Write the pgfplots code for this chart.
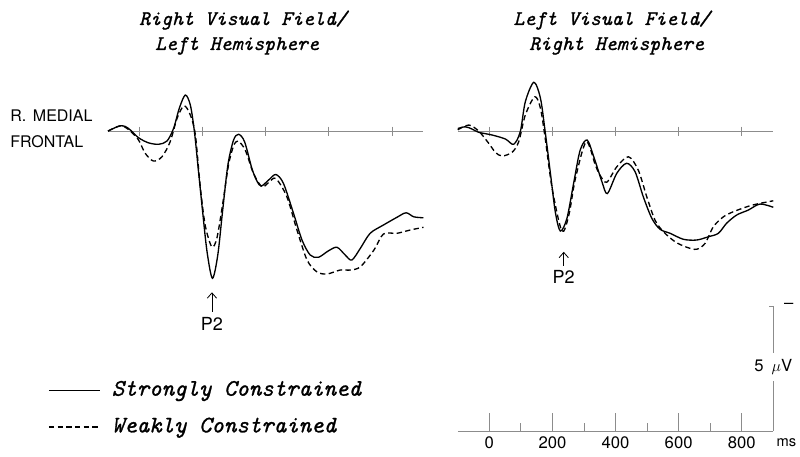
\documentclass[border=0pt]{standalone}
\usepackage{fontspec}
\usepackage{pgfplots}
\pgfplotsset{compat=1.18}
\usetikzlibrary{arrows.meta}

\newfontfamily\sansfont{TeX Gyre Heros}
\newfontfamily\titlefont{lmmono10-italic}[Extension=.otf, FakeBold=1]
\definecolor{zeroline}{gray}{0.55}

\tikzset{p2arrow/.style={{Straight Barb[length=4pt, width=7pt]}-, line width=0.6pt}}

% ms / microvolt data (negative up)
\pgfplotsset{
  erp/.style={
    scale only axis, width=236.6pt, height=168.75pt,
    xmin=-100, xmax=900, ymin=-2.5, ymax=6.5, y dir=reverse,
    axis x line=middle, axis y line=none, axis line style={-, zeroline, line width=0.6pt},
    xtick={0,200,...,800}, xticklabels={}, ytick=\empty,
    tick align=center, major tick length=6.75pt, tick style={zeroline, line width=0.6pt},
    clip=false,
  },
  strong/.style={black, line width=1pt, smooth, tension=0.5},
  weak/.style={black, line width=1pt, smooth, tension=0.5, dash pattern=on 4pt off 2.5pt},
}

\begin{document}
\begin{tikzpicture}
\useasboundingbox (0,0) rectangle (600pt,342.75pt);

% titles
\node[anchor=base, font=\fontsize{15.6}{18}\titlefont] at (182.25pt,324pt) {Right Visual Field/};
\node[anchor=base, font=\fontsize{15.6}{18}\titlefont] at (177.75pt,305.25pt) {Left Hemisphere};
\node[anchor=base, font=\fontsize{15.6}{18}\titlefont] at (458.8pt,324pt) {Left Visual Field/};
\node[anchor=base, font=\fontsize{15.6}{18}\titlefont] at (462.5pt,305.25pt) {Right Hemisphere};

\node[anchor=base west, inner sep=0pt, font=\fontsize{12}{14}\sansfont] at (7.5pt,251.25pt) {R.\hspace{5pt}MEDIAL};
\node[anchor=base west, inner sep=0pt, font=\fontsize{12}{14}\sansfont] at (7.5pt,231.75pt) {FRONTAL};

% left panel
\begin{axis}[erp, at={(81pt,122.6pt)}, anchor=south west,
  legend style={at={(-0.203,-0.37)}, anchor=north west, draw=none, fill=none,
    font=\fontsize{17.8}{21}\titlefont, row sep=11.5pt,
    nodes={inner sep=0pt, text height=12pt, text depth=4pt}},
  legend cell align=left,
  legend image code/.code={\draw[#1] (0pt,0pt) -- (38.7pt,0pt); \path (46.7pt,0pt);},
]
\addplot[strong] coordinates {
(-100,0) (-80,-0.12) (-61,-0.21) (-45,-0.18) (-29,-0.04) (-3,0.27) (28,0.47) (60,0.53)
(87,0.4) (108,-0.11) (126,-0.91) (145,-1.44) (161,-1.04) (174,0.03) (187,1.63) (200,3.23)
(214,4.83) (231,5.89) (248,4.96) (263,3.23) (280,1.36) (298,0.36) (314,0.13) (333,0.43)
(356,1.49) (372,2.0) (386,2.2) (410,1.95) (432,1.74) (456,2.09) (488,3.29) (515,4.36)
(541,4.96) (567,5.05) (599,4.79) (626,4.65) (652,4.96) (673,5.16) (700,4.69) (731,4.09)
(773,3.76) (816,3.45) (845,3.27) (869,3.43) (900,3.47)
};
\addlegendentry{Strongly Constrained}
\addplot[weak] coordinates {
(-100,0) (-80,-0.12) (-61,-0.21) (-45,-0.15) (-25,0.05) (-3,0.36) (18,0.89) (44,1.2)
(71,1.03) (97,0.43) (119,-0.51) (141,-1.01) (161,-0.64) (177,0.16) (192,2.16) (208,3.76)
(229,4.63) (245,4.29) (263,2.96) (282,1.36) (298,0.6) (312,0.4) (335,0.76) (361,1.69)
(388,2.23) (410,2.05) (432,1.9) (467,2.63) (499,3.96) (531,5.16) (562,5.63) (594,5.72)
(636,5.56) (668,5.56) (700,5.43) (743,4.76) (773,4.12) (816,4.09) (858,3.96) (900,3.85)
};
\addlegendentry{Weakly Constrained}
\draw[p2arrow] (axis cs:229.5,6.45) -- (axis cs:229.5,7.25);
\node[anchor=base, inner sep=0pt, font=\fontsize{13.5}{16}\sansfont] at (axis cs:229.5,7.96) {P2};
\end{axis}

% right panel
\begin{axis}[erp, at={(343.35pt,122.6pt)}, anchor=south west]
\addplot[strong] coordinates {
(-100,-0.1) (-76,-0.17) (-55,-0.08) (-34,0.05) (9,0.16) (51,0.32) (77,0.53) (98,0.03)
(114,-1.17) (141,-1.95) (162,-1.31) (177,0.03) (193,1.63) (209,3.23) (225,4.0) (246,3.49)
(268,2.03) (288,0.76) (310,0.36) (331,1.03) (357,2.03) (374,2.5) (404,1.69) (435,1.29)
(462,1.63) (488,2.63) (515,3.49) (541,3.93) (573,4.09) (615,4.33) (657,4.36) (694,4.23)
(726,4.09) (752,3.69) (784,3.36) (821,3.16) (858,2.92) (900,3.05)
};
\addplot[weak] coordinates {
(-100,-0.05) (-65,-0.24) (-34,0.0) (-2,0.49) (19,0.85) (40,1.0) (72,0.85) (93,0.43)
(114,-0.64) (144,-1.37) (162,-0.91) (177,0.29) (199,2.29) (230,4.0) (252,3.36) (273,1.89)
(307,0.43) (336,1.36) (350,1.75) (372,2.05) (404,1.43) (441,1.03) (472,1.56) (499,2.63)
(525,3.56) (552,4.03) (589,4.43) (626,4.65) (657,4.73) (684,4.49) (710,3.83) (742,3.43)
(773,3.23) (816,3.03) (848,2.92) (900,2.79)
};
\draw[p2arrow] (axis cs:235.8,4.83) -- (axis cs:235.8,5.4);
\node[anchor=base, inner sep=0pt, font=\fontsize{13.5}{16}\sansfont] at (axis cs:235.8,6.08) {P2};
\end{axis}

% time axis and voltage scale
\begin{axis}[scale only axis, width=236.6pt, height=93.75pt,
  at={(343.35pt,19.5pt)}, anchor=south west,
  xmin=-100, xmax=900, ymin=0, ymax=5,
  axis x line=bottom, axis y line=right, axis line style={-, zeroline, line width=0.6pt},
  xtick={0,200,...,800}, minor xtick={100,300,500,700}, ytick=\empty,
  tick align=inside, major tick length=13.5pt, minor tick length=6pt,
  tick style={zeroline, line width=0.6pt},
  /pgf/number format/assume math mode=true,
  xticklabel style={font=\fontsize{12.5}{14}\sansfont, inner sep=0pt, anchor=north, yshift=-4.3pt},
  clip=false,
]
\draw[zeroline, line width=0.6pt] (axis cs:900,5) -- ++(-3pt,0pt);
\node[anchor=west, inner sep=0pt, font=\fontsize{12.5}{14}\sansfont] at ([xshift=8pt]axis cs:900,5) {–};
\node[fill=white, inner xsep=1pt, inner ysep=5pt, font=\fontsize{12.5}{14}\sansfont] at (axis cs:900,2.56) {5\hspace{6pt}$\mu$V};
\node[anchor=base west, inner sep=0pt, font=\fontsize{11}{13}\sansfont] at ([xshift=2.3pt, yshift=-11.8pt]axis cs:900,0) {ms};
\end{axis}
\end{tikzpicture}
\end{document}
